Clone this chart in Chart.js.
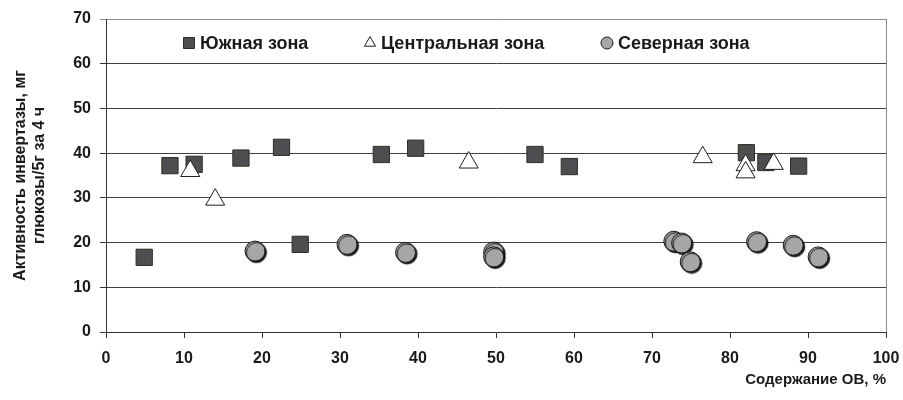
<!DOCTYPE html>
<html lang="ru">
<head>
<meta charset="UTF-8">
<title>Активность инвертазы по зонам</title>
<script src="https://cdn.jsdelivr.net/npm/chart.js"></script>
<style>
  body { margin: 0; background: #fff; }
  #wrap { width: 903px; height: 400px; }
</style>
</head>
<body>
<div id="wrap"><canvas id="chart"></canvas></div>
<script>
// данные: содержание ОВ (%) -> активность инвертазы
const southX = [4.9, 8.2, 11.3, 17.3, 22.5, 24.9, 35.3, 39.7, 55.0, 59.4, 82.1, 84.6, 88.8];
const southY = [16.7, 37.2, 37.5, 38.9, 41.3, 19.6, 39.7, 41.1, 39.7, 37.0, 40.1, 37.9, 37.1];

const centralX = [10.8, 14.0, 46.5, 76.5, 82.0, 82.0, 85.6];
const centralY = [36.0, 29.6, 37.9, 39.1, 37.3, 35.7, 37.6];

const northX = [19.1, 30.9, 38.4, 49.7, 49.7, 72.8, 73.8, 74.9, 83.4, 88.1, 91.3];
const northY = [18.1, 19.6, 17.8, 17.9, 16.8, 20.3, 19.9, 15.7, 20.2, 19.4, 16.8];

const seriesNames = ['Южная зона', 'Центральная зона', 'Северная зона'];
const xTickValues = [0, 10, 20, 30, 40, 50, 60, 70, 80, 90, 100];
const yTickValues = [0, 10, 20, 30, 40, 50, 60, 70];

const FONT = '"Liberation Sans", Arial, sans-serif';

function toPoints(xs, ys) {
    return xs.map((x, i) => ({ x: x, y: ys[i] }));
}

// легенда внутри области графика
const legendX = [189, 370, 607];
const legendR = [7.8, 6.4, 6];
const legendInside = {
    id: 'legendInside',
    afterDatasetsDraw(chart) {
        const ctx = chart.ctx;
        const y = 43;
        ctx.save();
        ctx.font = 'bold 18px ' + FONT;
        ctx.textBaseline = 'middle';
        ctx.textAlign = 'left';
        chart.data.datasets.forEach((ds, i) => {
            ctx.fillStyle = ds.backgroundColor;
            ctx.strokeStyle = ds.borderColor;
            ctx.lineWidth = 1;
            Chart.helpers.drawPoint(ctx, { pointStyle: ds.pointStyle, radius: legendR[i], borderWidth: 1, rotation: 0 }, legendX[i], y);
            ctx.fillStyle = '#1a1a1a';
            ctx.fillText(ds.label, legendX[i] + 11, y + 1);
        });
        ctx.restore();
    }
};

// тень у кружков северной зоны
const circleShadow = {
    id: 'circleShadow',
    beforeDatasetDraw(chart, args) {
        if (args.index !== 2) return;
        const ctx = chart.ctx;
        ctx.save();
        ctx.shadowColor = 'rgba(0,0,0,0.9)';
        ctx.shadowOffsetX = 1.5;
        ctx.shadowOffsetY = 1.5;
        ctx.shadowBlur = 1;
    },
    afterDatasetDraw(chart, args) {
        if (args.index !== 2) return;
        chart.ctx.restore();
    }
};

new Chart(document.getElementById('chart'), {
    type: 'scatter',
    data: {
        datasets: [
            {
                label: seriesNames[0],
                data: toPoints(southX, southY),
                pointStyle: 'rect',
                pointRadius: 11.5,
                backgroundColor: '#4e4e50',
                borderColor: '#2f2f22',
                borderWidth: 1,
                order: 1
            },
            {
                label: seriesNames[1],
                data: toPoints(centralX, centralY),
                pointStyle: 'triangle',
                pointRadius: 11,
                backgroundColor: '#ffffff',
                borderColor: '#1e1e1e',
                borderWidth: 1,
                order: 0
            },
            {
                label: seriesNames[2],
                data: toPoints(northX, northY),
                pointStyle: 'circle',
                pointRadius: 10,
                backgroundColor: '#a6a6a6',
                borderColor: '#1a1a1a',
                borderWidth: 1,
                order: 2
            }
        ]
    },
    options: {
        responsive: true,
        maintainAspectRatio: false,
        animation: false,
        devicePixelRatio: 1,
        layout: { padding: { left: 0, right: 17, top: 19, bottom: 0 } },
        plugins: {
            legend: { display: false },
            tooltip: { enabled: false }
        },
        scales: {
            x: {
                type: 'linear',
                min: 0,
                max: 100,
                afterBuildTicks: (s) => { s.ticks = xTickValues.map(v => ({ value: v })); },
                afterFit: (s) => { s.height = 68; s.paddingRight = 0; s.paddingLeft = 0; },
                border: { color: '#333333', width: 1 },
                grid: {
                    drawOnChartArea: true,
                    color: (c) => c.tick && c.tick.value === 100 ? '#8c8c8c' : 'rgba(0,0,0,0)',
                    tickColor: '#333333',
                    tickLength: 6
                },
                ticks: {
                    color: '#1a1a1a',
                    padding: 11,
                    maxRotation: 0,
                    font: { family: FONT, size: 16, weight: 'bold' }
                },
                title: {
                    display: true,
                    text: 'Содержание ОВ, %',
                    align: 'end',
                    color: '#1a1a1a',
                    padding: { top: 0, bottom: 11 },
                    font: { family: FONT, size: 15, weight: 'bold' }
                }
            },
            y: {
                type: 'linear',
                min: 0,
                max: 70,
                afterBuildTicks: (s) => { s.ticks = yTickValues.map(v => ({ value: v })); },
                afterFit: (s) => { s.width = 106; },
                border: { color: '#333333', width: 1 },
                grid: {
                    color: (c) => {
                        if (!c.tick) return '#404040';
                        if (c.tick.value === 70) return '#8c8c8c';
                        if (c.tick.value === 0) return 'rgba(0,0,0,0)';
                        return '#404040';
                    },
                    tickColor: (c) => c.tick && c.tick.value === 70 ? '#8c8c8c' : '#333333',
                    tickLength: 6
                },
                ticks: {
                    color: '#1a1a1a',
                    padding: 9,
                    font: { family: FONT, size: 16, weight: 'bold' }
                },
                title: {
                    display: true,
                    text: ['Активность инвертазы, мг', 'глюкозы/5г за 4 ч'],
                    color: '#1a1a1a',
                    padding: { top: 11, bottom: 0 },
                    font: { family: FONT, size: 16, weight: 'bold', lineHeight: 1.19 }
                }
            }
        }
    },
    plugins: [legendInside, circleShadow]
});
</script>
</body>
</html>
